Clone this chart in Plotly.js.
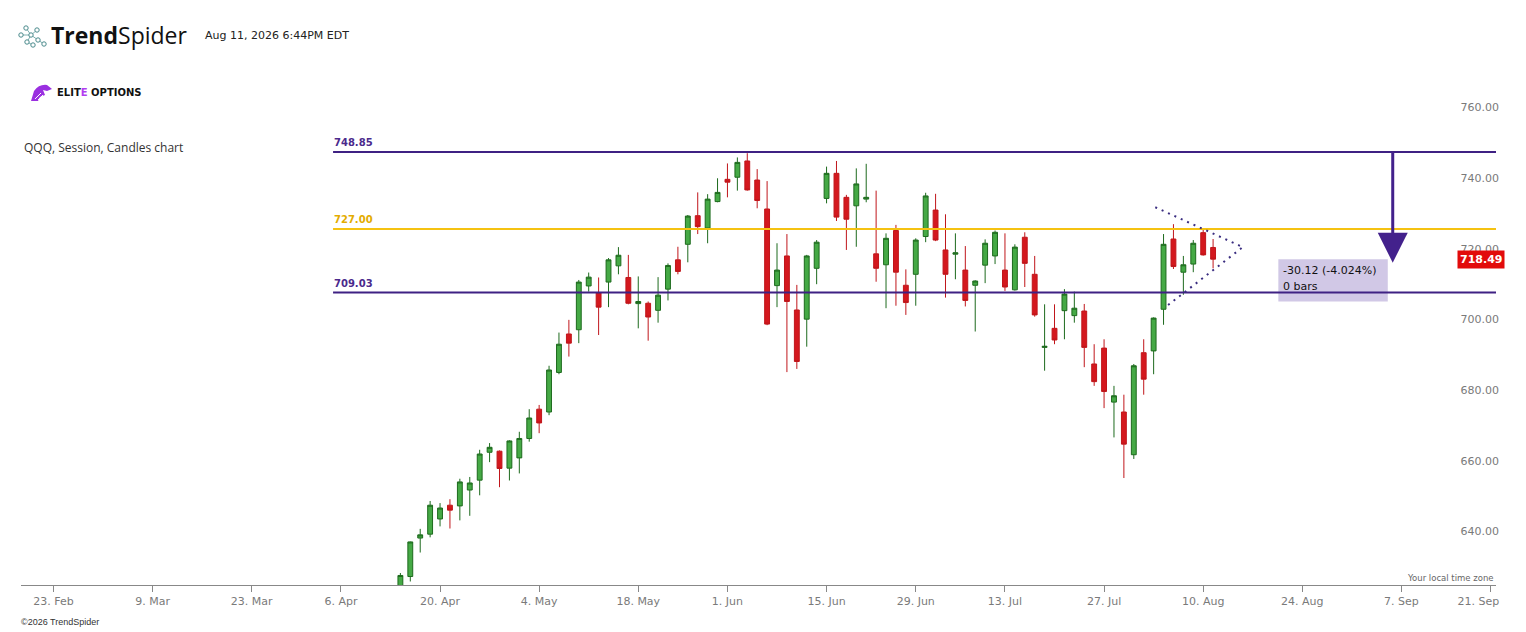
<!DOCTYPE html>
<html>
<head>
<meta charset="utf-8">
<script src="https://cdn.plot.ly/plotly-3.0.1.min.js"></script>
<style>html,body{margin:0;padding:0;background:#fff;}#chart{width:1526px;height:632px;}</style>
</head>
<body>
<div id="chart"></div>
<script>
// ---- data (QQQ daily candles) ----
const dates = ['2026-04-14','2026-04-15','2026-04-16','2026-04-17','2026-04-20','2026-04-21','2026-04-22','2026-04-23','2026-04-24',
'2026-04-27','2026-04-28','2026-04-29','2026-04-30','2026-05-01','2026-05-04','2026-05-05','2026-05-06','2026-05-07','2026-05-08',
'2026-05-11','2026-05-12','2026-05-13','2026-05-14','2026-05-15','2026-05-18','2026-05-19','2026-05-20','2026-05-21','2026-05-22',
'2026-05-26','2026-05-27','2026-05-28','2026-05-29','2026-06-01','2026-06-02','2026-06-03','2026-06-04','2026-06-05',
'2026-06-08','2026-06-09','2026-06-10','2026-06-11','2026-06-12','2026-06-15','2026-06-16','2026-06-17','2026-06-18',
'2026-06-22','2026-06-23','2026-06-24','2026-06-25','2026-06-26','2026-06-29','2026-06-30','2026-07-01','2026-07-02',
'2026-07-06','2026-07-07','2026-07-08','2026-07-09','2026-07-10','2026-07-13','2026-07-14','2026-07-15','2026-07-16','2026-07-17',
'2026-07-20','2026-07-21','2026-07-22','2026-07-23','2026-07-24','2026-07-27','2026-07-28','2026-07-29','2026-07-30','2026-07-31',
'2026-08-03','2026-08-04','2026-08-05','2026-08-06','2026-08-07','2026-08-10','2026-08-11'];
const openVals = [621.0,628.6,639.5,640.6,644.9,648.8,648.6,653.1,655.9,
663.8,664.1,659.3,662.2,667.7,676.0,675.2,686.4,697.3,698.5,
710.9,708.9,712.0,716.6,713.3,705.9,706.0,704.0,710.0,718.3,
722.7,730.8,727.3,734.8,741.1,741.7,746.3,740.9,732.7,
711.0,719.4,704.1,701.5,715.9,735.7,742.8,736.0,733.6,
735.5,720.0,716.9,726.6,711.1,714.2,724.9,732.4,721.1,
719.9,715.4,711.1,716.8,719.4,715.4,709.8,724.7,714.2,693.5,
698.9,703.9,702.5,703.8,688.8,693.3,678.0,675.2,663.1,692.0,
692.5,704.3,724.2,714.8,717.1,726.0,721.8];
const highVals = [629.6,638.5,642.1,650.0,649.4,650.5,656.3,656.8,664.5,
666.4,664.3,667.2,669.6,676.0,677.2,688.3,697.7,701.3,712.6,
714.7,713.3,718.8,721.9,719.7,713.6,706.5,713.4,717.3,722.0,
731.0,737.4,736.9,741.4,745.6,747.3,748.5,744.0,740.6,
723.0,725.6,711.2,719.7,723.9,744.7,746.3,736.7,744.2,
745.5,737.9,725.8,728.2,715.6,724.4,737.3,737.0,731.2,
725.8,722.2,712.5,724.1,726.6,725.8,722.7,726.1,719.4,705.7,
705.7,710.0,709.3,705.8,694.4,695.8,682.6,680.1,688.8,695.8,
702.0,725.6,728.4,719.4,723.9,727.3,724.2];
const lowVals = [618.0,627.2,635.4,639.7,642.8,642.2,644.5,645.8,651.6,
661.0,653.9,655.8,657.8,666.8,669.2,674.3,685.9,690.9,694.7,
709.3,697.0,704.9,714.2,705.7,698.9,695.4,700.5,706.8,714.2,
717.6,725.6,723.0,734.6,736.0,737.9,737.9,732.9,699.8,
704.9,686.5,687.4,693.7,711.4,734.3,729.3,721.1,722.0,
734.6,712.1,704.6,705.3,702.7,705.3,723.3,723.6,707.6,
712.8,705.1,698.0,711.7,717.1,709.5,709.6,710.6,702.2,686.9,
694.4,695.8,700.5,687.9,682.6,676.3,668.0,656.5,661.9,680.1,
685.9,699.9,715.7,708.4,714.8,719.5,715.9];
const closeVals = [628.9,638.4,640.4,648.8,648.0,647.4,655.4,655.1,663.3,
665.2,659.2,667.0,667.7,673.5,672.1,687.1,694.4,694.7,712.0,
713.4,704.9,718.3,719.6,706.0,706.5,702.1,708.3,716.7,715.0,
730.7,727.7,735.5,737.4,740.3,745.9,738.1,735.1,700.1,
715.4,706.5,689.5,719.4,723.3,742.8,730.4,729.8,739.8,
736.0,715.9,724.4,714.8,706.2,723.9,736.4,723.9,714.2,
720.3,706.8,712.3,723.0,726.1,710.6,721.9,717.3,702.7,693.8,
695.6,708.6,704.6,693.5,683.8,681.0,679.8,666.1,688.3,684.5,
701.8,722.7,716.4,716.9,723.0,719.7,718.49];

// market holidays (no trading) used by the axis
const holidays = ['2026-02-16','2026-04-03','2026-05-25','2026-06-19','2026-07-03','2026-09-07'];

// x-axis ticks
const tickDates = ['2026-02-23','2026-03-09','2026-03-23','2026-04-06','2026-04-20','2026-05-04','2026-05-18','2026-06-01',
'2026-06-15','2026-06-29','2026-07-13','2026-07-27','2026-08-10','2026-08-24','2026-09-08','2026-09-21'];
const tickLabels = ['23. Feb','9. Mar','23. Mar','6. Apr','20. Apr','4. May','18. May','1. Jun',
'15. Jun','29. Jun','13. Jul','27. Jul','10. Aug','24. Aug','7. Sep','21. Sep\u00a0\u00a0\u00a0\u00a0\u00a0\u00a0\u00a0'];

// drawn levels
const levelValues = [748.85, 727.00, 709.03];
const levelLabels = ['748.85', '727.00', '709.03'];
const lastPrice = 718.49;
const measureLines = ['-30.12 (-4.024%)', '0 bars'];

// ---- layout helpers (pixel -> paper) ----
const L = 21, R = 1495.7, T = 60, B = 585.3;
const W = R - L, H = B - T;
const PX = p => (p - L) / W;
const PY = p => (B - p) / H;

const purple = '#3f2183';
const gold = '#f5c211';
const levelColors = [purple, gold, purple];
const levelTextColors = ['#4b2a8c', '#e3ac00', '#4b2a8c'];

const trace = {
  type: 'candlestick',
  x: dates, open: openVals, high: highVals, low: lowVals, close: closeVals,
  increasing: {line: {color: '#1d6a1d', width: 1}, fillcolor: '#45a945'},
  decreasing: {line: {color: '#c0161b', width: 1}, fillcolor: '#d4181e'},
  whiskerwidth: 0,
  hoverinfo: 'x+y',
  showlegend: false
};

const shapes = [];
const annotations = [];

// measurement box (drawn under the level lines)
shapes.push({type: 'rect', xref: 'x', yref: 'y', x0: '2026-08-19 14:00', x1: '2026-09-03 15:00',
  y0: 706.5, y1: 718.5, fillcolor: '#d1c8e6', line: {width: 0}, layer: 'above'});

levelValues.forEach((v, i) => {
  shapes.push({type: 'line', xref: 'paper', yref: 'y', x0: PX(333), x1: 1, y0: v, y1: v,
    line: {color: levelColors[i], width: 2}});
  annotations.push({xref: 'paper', yref: 'y', x: PX(332), y: v, xanchor: 'left', yanchor: 'bottom',
    yshift: 2, showarrow: false, text: '<b>' + levelLabels[i] + '</b>',
    font: {family: 'DejaVu Sans', size: 10, color: levelTextColors[i]}});
});

// dotted triangle drawing
shapes.push({type: 'line', xref: 'x', yref: 'y', x0: '2026-08-03 04:00', y0: 733.2, x1: '2026-08-14', y1: 721.9,
  line: {color: '#3a2d80', width: 2, dash: '2px,5px'}});
shapes.push({type: 'line', xref: 'x', yref: 'y', x0: '2026-08-04 11:00', y0: 705.5, x1: '2026-08-14', y1: 721.9,
  line: {color: '#3a2d80', width: 2, dash: '2px,5px'}});

// arrow
shapes.push({type: 'line', xref: 'x', yref: 'y', x0: '2026-09-04 03:00', x1: '2026-09-04 03:00', y0: 748.85, y1: 725.0,
  line: {color: '#43218c', width: 3}});
shapes.push({type: 'path', xref: 'x', yref: 'y', xsizemode: 'pixel', ysizemode: 'pixel',
  xanchor: '2026-09-04 03:00', yanchor: 717.5, path: 'M-15,30 L15,30 L0,0 Z',
  fillcolor: '#43218c', line: {width: 0}});

// measurement text
annotations.push({xref: 'paper', yref: 'paper', x: PX(1281), y: PY(271), xanchor: 'left', yanchor: 'middle',
  showarrow: false, text: measureLines[0], font: {family: 'DejaVu Sans', size: 11, color: '#111'}});
annotations.push({xref: 'paper', yref: 'paper', x: PX(1281), y: PY(287), xanchor: 'left', yanchor: 'middle',
  showarrow: false, text: measureLines[1], font: {family: 'DejaVu Sans', size: 11, color: '#111'}});

// last price tag
annotations.push({xref: 'paper', yref: 'y', x: PX(1480.5), y: lastPrice, xanchor: 'center', yanchor: 'middle',
  showarrow: false, text: '<b>' + lastPrice.toFixed(2) + '</b>', bgcolor: '#e20b0b', borderpad: 2,
  font: {family: 'DejaVu Sans', size: 11, color: '#ffffff'}});

// header
annotations.push({xref: 'paper', yref: 'paper', x: PX(49), y: PY(35), xanchor: 'left', yanchor: 'middle',
  showarrow: false, text: '<b>Trend</b>Spider', font: {family: 'Open Sans', size: 23, color: '#111'}});
annotations.push({xref: 'paper', yref: 'paper', x: PX(203), y: PY(35), xanchor: 'left', yanchor: 'middle',
  showarrow: false, text: 'Aug 11, 2026 6:44PM EDT', font: {family: 'DejaVu Sans', size: 11, color: '#222'}});
annotations.push({xref: 'paper', yref: 'paper', x: PX(55), y: PY(93), xanchor: 'left', yanchor: 'middle',
  showarrow: false, text: '<b>ELIT<span style="color:#b23cf0">E</span> OPTIONS</b>',
  font: {family: 'DejaVu Sans', size: 10, color: '#111'}});
annotations.push({xref: 'paper', yref: 'paper', x: PX(22), y: PY(148), xanchor: 'left', yanchor: 'middle',
  showarrow: false, text: 'QQQ, Session, Candles chart', font: {family: 'Open Sans', size: 12, color: '#333'}});
annotations.push({xref: 'paper', yref: 'paper', x: PX(1496), y: PY(578), xanchor: 'right', yanchor: 'middle',
  showarrow: false, text: 'Your local time zone', font: {family: 'DejaVu Sans', size: 8.5, color: '#666'}});
annotations.push({xref: 'paper', yref: 'paper', x: PX(19), y: PY(622), xanchor: 'left', yanchor: 'middle',
  showarrow: false, text: '©2026 TrendSpider', font: {family: 'Liberation Sans', size: 9, color: '#333'}});

// TrendSpider icon (small linked circles)
const iconPts = [[21,35],[26,28],[31,35],[27,42],[37,30],[38,40],[44,44],[33,45]];
const iconLinks = [[0,2],[1,2],[2,3],[2,4],[2,5],[5,6],[3,7]];
iconLinks.forEach(([a, b]) => {
  shapes.push({type: 'line', xref: 'paper', yref: 'paper', x0: PX(iconPts[a][0]), y0: PY(iconPts[a][1]),
    x1: PX(iconPts[b][0]), y1: PY(iconPts[b][1]), line: {color: '#7fb0b0', width: 1}});
});
iconPts.forEach(([px, py]) => {
  shapes.push({type: 'circle', xref: 'paper', yref: 'paper', xsizemode: 'pixel', ysizemode: 'pixel',
    xanchor: PX(px), yanchor: PY(py), x0: -2.2, x1: 2.2, y0: -2.2, y1: 2.2,
    fillcolor: '#ffffff', line: {color: '#4a8a8c', width: 1}});
});

// Elite Options icon
shapes.push({type: 'path', xref: 'paper', yref: 'paper', xsizemode: 'pixel', ysizemode: 'pixel',
  xanchor: PX(31), yanchor: PY(101),
  path: 'M0,0 L3,10 Q8,17 16,16 L21,12 L16,10 L12,11 L14,6 L9,4 L7,0 Z',
  fillcolor: '#9a2fe0', line: {width: 0}});
shapes.push({type: 'path', xref: 'paper', yref: 'paper', xsizemode: 'pixel', ysizemode: 'pixel',
  xanchor: PX(31), yanchor: PY(101),
  path: 'M4,2 L10,8 M7,1 L12,6',
  line: {color: '#ffffff', width: 1}});

const layout = {
  width: 1526, height: 632,
  margin: {l: L, r: 1526 - R, t: T, b: 632 - B, pad: 0},
  paper_bgcolor: '#ffffff', plot_bgcolor: '#ffffff',
  showlegend: false,
  dragmode: false,
  xaxis: {
    type: 'date',
    range: ['2026-02-17 17:17', '2026-09-21 13:05'],
    rangebreaks: [{bounds: ['sat', 'mon']}, {values: holidays}],
    rangeslider: {visible: false},
    tickmode: 'array', tickvals: tickDates, ticktext: tickLabels,
    ticklabeloverflow: 'allow',
    ticks: 'outside', ticklen: 6, tickcolor: '#888', tickwidth: 1,
    showline: true, linecolor: '#888', linewidth: 1,
    showgrid: false, zeroline: false,
    tickfont: {family: 'DejaVu Sans', size: 11, color: '#7a7a7a'}
  },
  yaxis: {
    side: 'right',
    range: [626.2, 774.9],
    tick0: 0, dtick: 20, tickformat: '.2f',
    ticklabelposition: 'inside',
    ticklabeloverflow: 'allow',
    ticklabelstandoff: -6,
    ticklabelshift: -5,
    ticks: '', showline: false, showgrid: false, zeroline: false,
    tickfont: {family: 'DejaVu Sans', size: 11, color: '#7a7a7a'}
  },
  shapes: shapes,
  annotations: annotations
};

Plotly.newPlot('chart', [trace], layout, {staticPlot: true, displayModeBar: false});
</script>
</body>
</html>
